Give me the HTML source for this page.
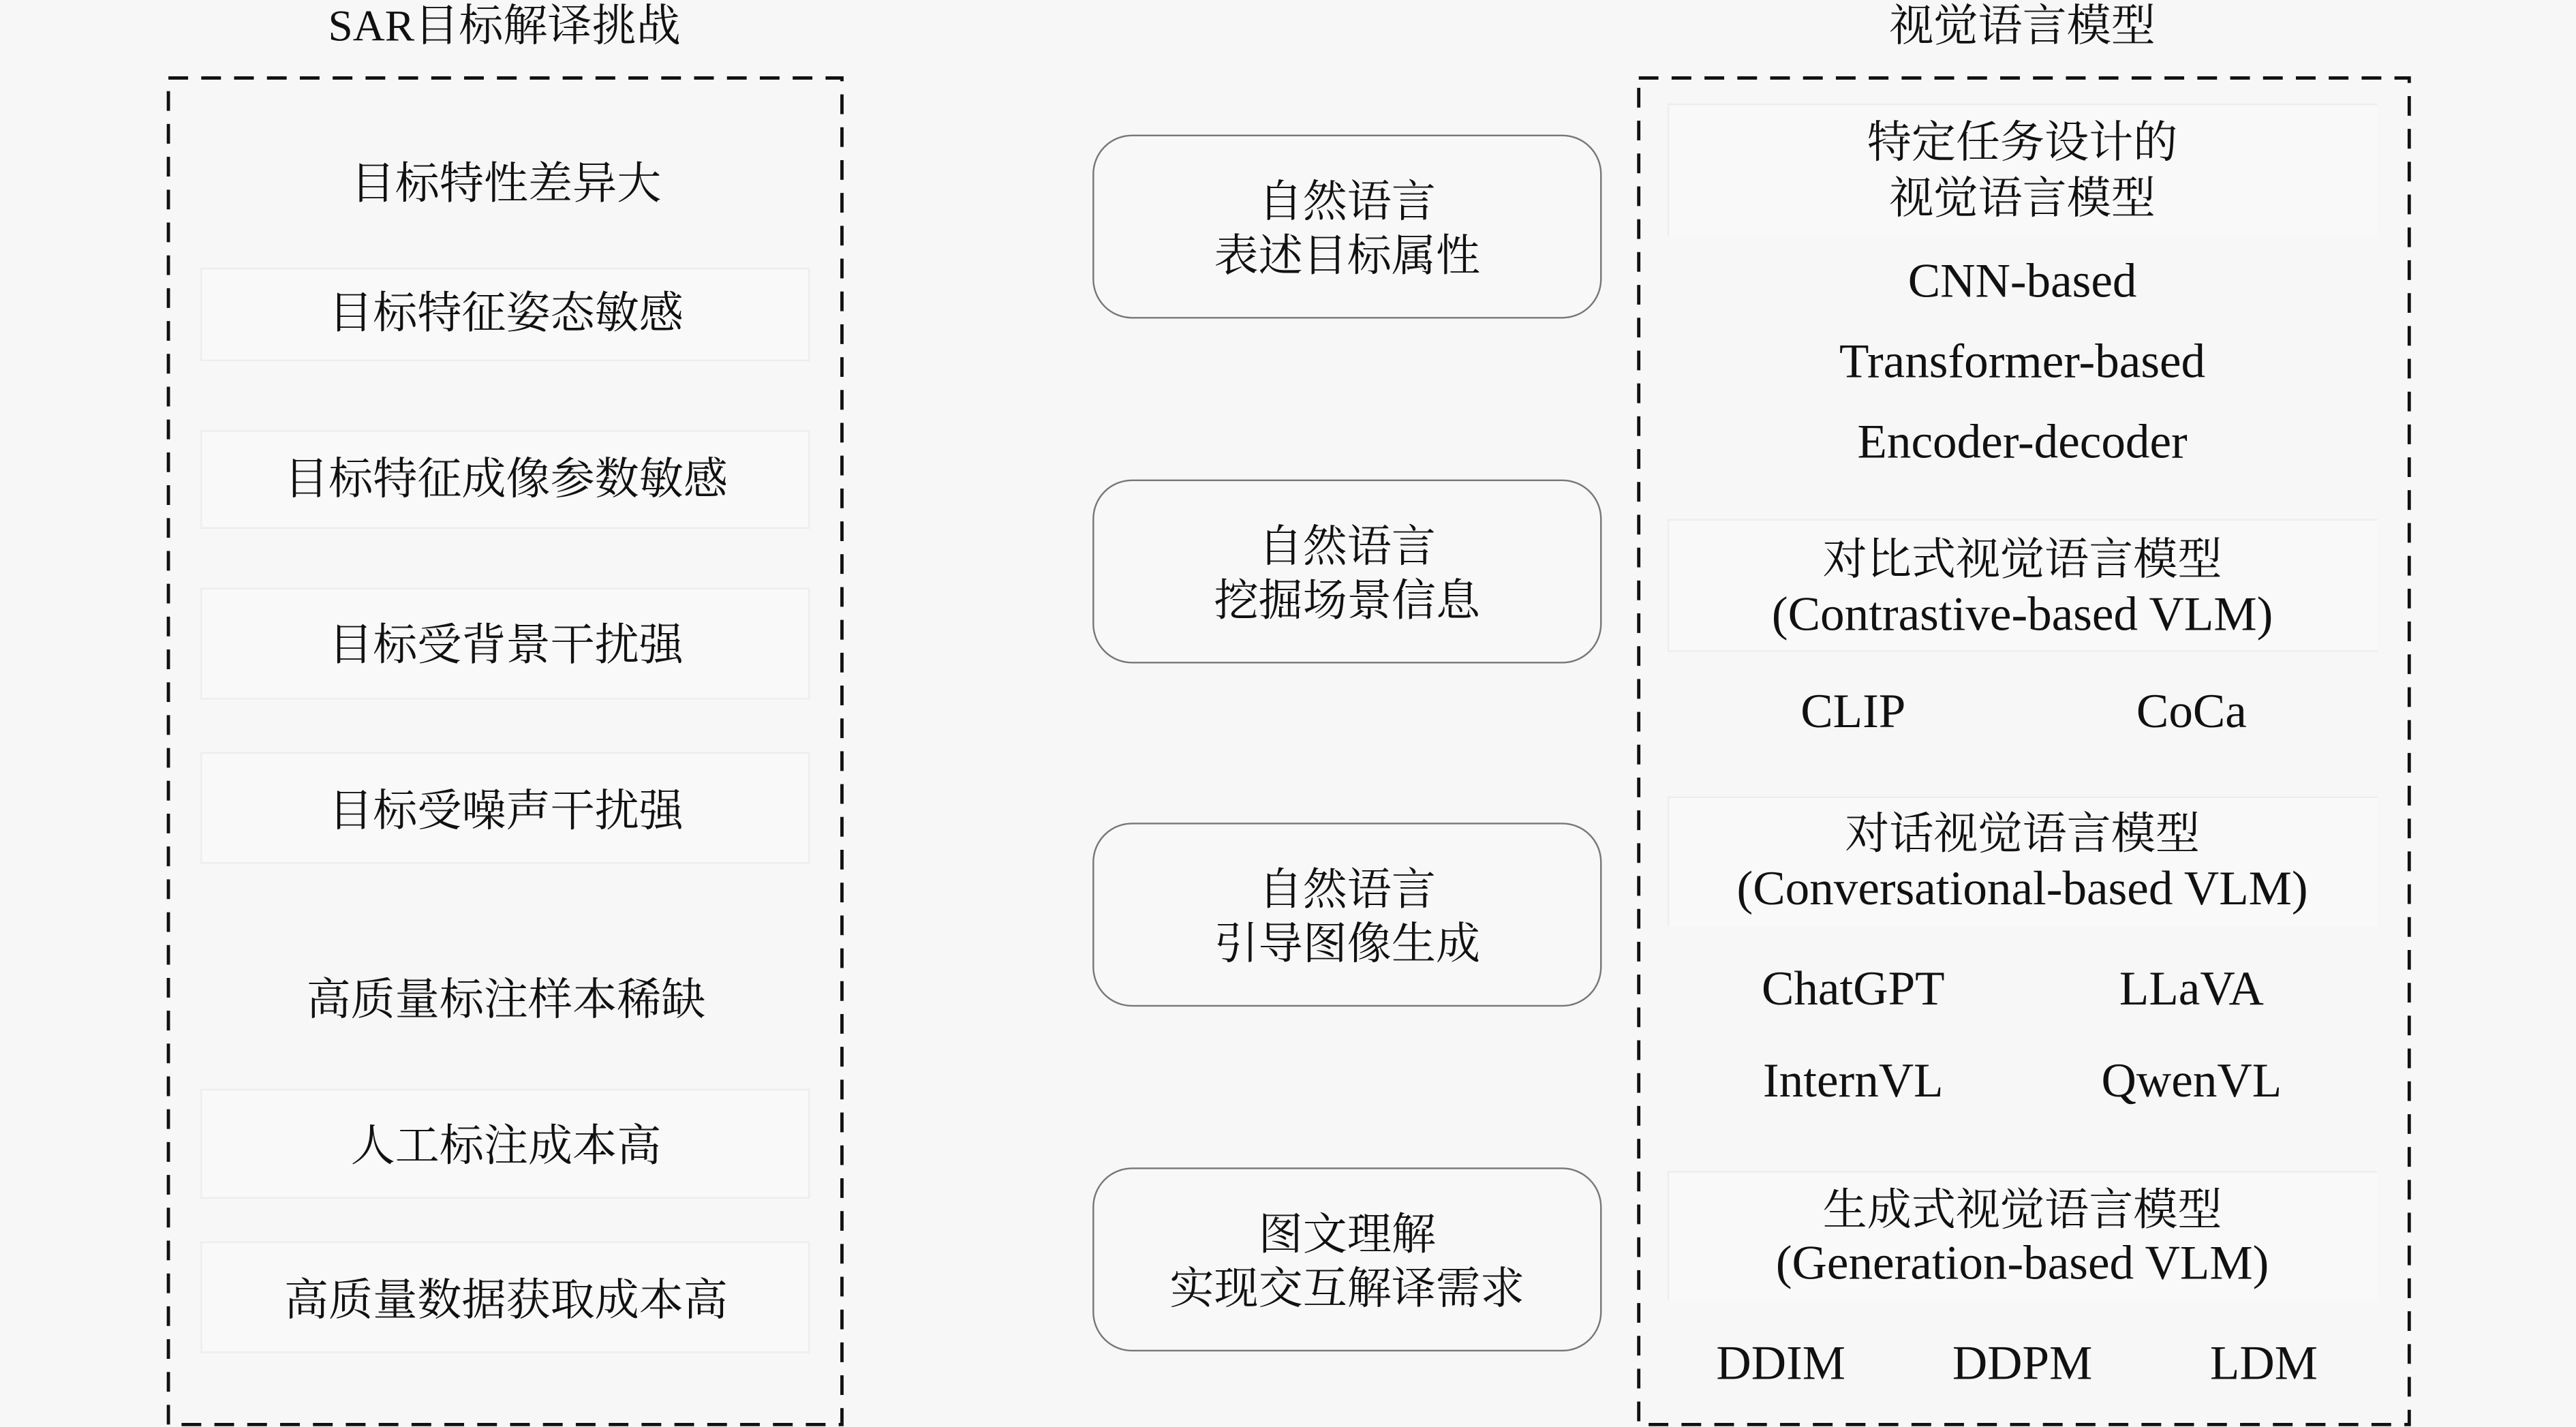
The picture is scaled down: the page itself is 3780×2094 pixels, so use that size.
<!DOCTYPE html>
<html><head><meta charset="utf-8"><style>
html,body{margin:0;padding:0;background:#f7f7f7;}
#w{position:relative;width:3780px;height:2094px;overflow:hidden;background:#f7f7f7;}
#s{position:absolute;left:0;top:0;width:1568px;height:869px;transform:scale(2.41071,2.40967);transform-origin:0 0;font-family:"Liberation Serif","Noto Serif CJK SC",serif;color:#111;}
.t{position:absolute;text-align:center;white-space:nowrap;font-size:27px;line-height:34px;transform:translate(-50%,-45%);}
.l{font-size:29.5px;}
.fb{position:absolute;border:1px solid #ededed;background:#f9f9f9;}
.rb{position:absolute;border:1.5px solid #777;border-radius:24px;background:#f8f8f8;}
svg{position:absolute;left:0;top:0;}
</style></head><body><div id="w"><div id="s">
<svg width="1568" height="869">
<rect x="102.5" y="47.5" width="410" height="820" fill="none" stroke="#111" stroke-width="2" stroke-dasharray="12,8"/>
<rect x="997.5" y="47.5" width="469" height="820" fill="none" stroke="#111" stroke-width="2" stroke-dasharray="12,8"/>
</svg>
<div class="t" style="left:307px;top:14px">SAR目标解译挑战</div>
<div class="t" style="left:1231px;top:14px">视觉语言模型</div>

<div class="fb" style="left:122px;top:163px;width:369px;height:55px"></div>
<div class="fb" style="left:122px;top:262px;width:369px;height:58px"></div>
<div class="fb" style="left:122px;top:358px;width:369px;height:66px"></div>
<div class="fb" style="left:122px;top:458px;width:369px;height:66px"></div>
<div class="fb" style="left:122px;top:663px;width:369px;height:65px"></div>
<div class="fb" style="left:122px;top:756px;width:369px;height:66px"></div>

<div class="t" style="left:308px;top:110px">目标特性差异大</div>
<div class="t" style="left:308px;top:189px">目标特征姿态敏感</div>
<div class="t" style="left:308px;top:290px">目标特征成像参数敏感</div>
<div class="t" style="left:308px;top:391px">目标受背景干扰强</div>
<div class="t" style="left:308px;top:492px">目标受噪声干扰强</div>
<div class="t" style="left:308px;top:607px">高质量标注样本稀缺</div>
<div class="t" style="left:308px;top:696px">人工标注成本高</div>
<div class="t" style="left:308px;top:790px">高质量数据获取成本高</div>

<div class="rb" style="left:665px;top:82px;width:308px;height:110px"></div>
<div class="rb" style="left:665px;top:292px;width:308px;height:110px"></div>
<div class="rb" style="left:665px;top:501px;width:308px;height:110px"></div>
<div class="rb" style="left:665px;top:711px;width:308px;height:110px"></div>
<div class="t" style="left:820px;top:121px">自然语言</div>
<div class="t" style="left:820px;top:154px">表述目标属性</div>
<div class="t" style="left:820px;top:331px">自然语言</div>
<div class="t" style="left:820px;top:364px">挖掘场景信息</div>
<div class="t" style="left:820px;top:540px">自然语言</div>
<div class="t" style="left:820px;top:573px">引导图像生成</div>
<div class="t" style="left:820px;top:750px">图文理解</div>
<div class="t" style="left:820px;top:783px">实现交互解译需求</div>

<div class="fb" style="left:1015px;top:63px;width:431px;height:80px;border-right:none;border-bottom:none"></div>
<div class="fb" style="left:1015px;top:316px;width:431px;height:79px;border-right:none"></div>
<div class="fb" style="left:1015px;top:485px;width:431px;height:78px;border-right:none;border-bottom:none"></div>
<div class="fb" style="left:1015px;top:713px;width:431px;height:78px;border-right:none;border-bottom:none"></div>

<div class="t" style="left:1231px;top:85px">特定任务设计的</div>
<div class="t" style="left:1231px;top:119px">视觉语言模型</div>
<div class="t l" style="left:1231px;top:170px">CNN-based</div>
<div class="t l" style="left:1231px;top:219px">Transformer-based</div>
<div class="t l" style="left:1231px;top:268px">Encoder-decoder</div>
<div class="t" style="left:1231px;top:339px">对比式视觉语言模型</div>
<div class="t l" style="left:1231px;top:373px">(Contrastive-based VLM)</div>
<div class="t l" style="left:1128px;top:432px">CLIP</div>
<div class="t l" style="left:1334px;top:432px">CoCa</div>
<div class="t" style="left:1231px;top:506px">对话视觉语言模型</div>
<div class="t l" style="left:1231px;top:540px">(Conversational-based VLM)</div>
<div class="t l" style="left:1128px;top:601px">ChatGPT</div>
<div class="t l" style="left:1334px;top:601px">LLaVA</div>
<div class="t l" style="left:1128px;top:657px">InternVL</div>
<div class="t l" style="left:1334px;top:657px">QwenVL</div>
<div class="t" style="left:1231px;top:735px">生成式视觉语言模型</div>
<div class="t l" style="left:1231px;top:768px">(Generation-based VLM)</div>
<div class="t l" style="left:1084px;top:829px">DDIM</div>
<div class="t l" style="left:1231px;top:829px">DDPM</div>
<div class="t l" style="left:1378px;top:829px">LDM</div>
</div></div></body></html>
